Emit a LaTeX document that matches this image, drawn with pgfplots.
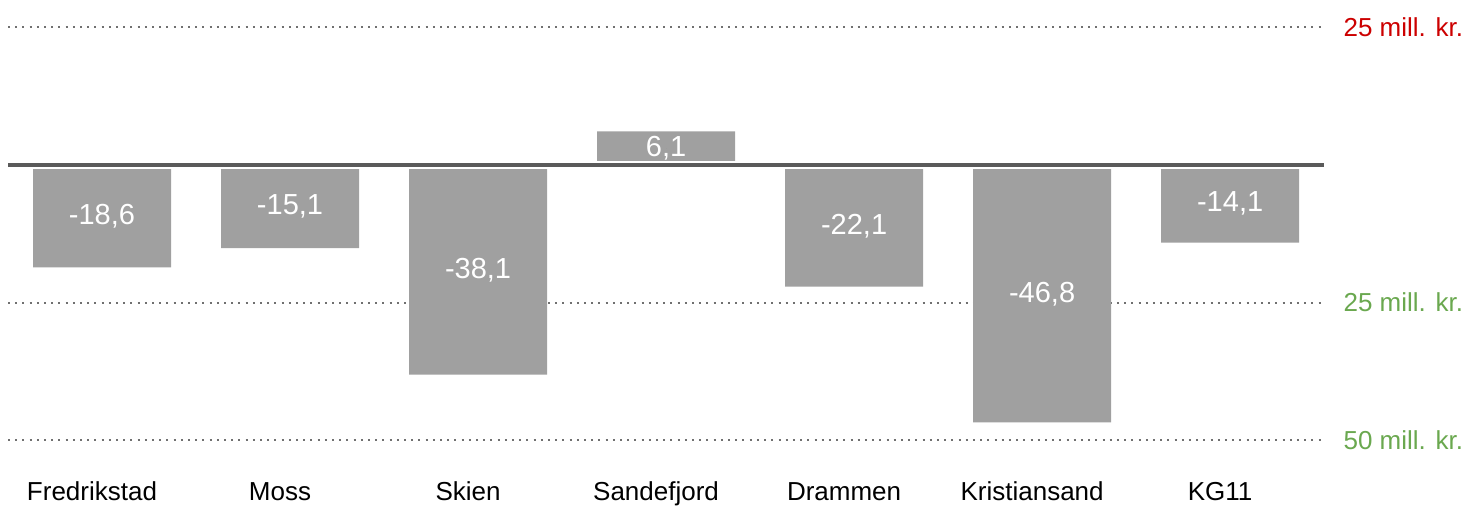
\documentclass[border=0pt]{standalone}
\usepackage{fontspec}
\setmainfont{Liberation Sans}
\usepackage{pgfplots}
\usepackage{pgfplotstable}
\pgfplotsset{compat=1.18}

\definecolor{barg}{HTML}{A0A0A0}
\definecolor{zeroc}{HTML}{5A5A5A}
\definecolor{gridc}{HTML}{707070}
\definecolor{redlab}{HTML}{CC0000}
\definecolor{greenlab}{HTML}{6AA84F}

% x, value, half value (label position), label
\pgfplotstableread{
x y half label
0 -18.6 -9.3 -18,6
1 -15.1 -7.55 -15,1
2 -38.1 -19.05 -38,1
3 6.1 3.05 6,1
4 -22.1 -11.05 -22,1
5 -46.8 -23.4 -46,8
6 -14.1 -7.05 -14,1
}\data

\begin{document}
\begin{tikzpicture}
\begin{axis}[
    scale only axis,
    width=658pt, height=243pt,
    xmin=-0.5, xmax=6.5,
    ymin=-58.36, ymax=30,
    axis line style={draw=none},
    major tick length=0pt,
    tick style={draw=none},
    xtick={0,...,6},
    xticklabels={Fredrikstad,Moss,Skien,Sandefjord,Drammen,Kristiansand,KG11},
    xticklabel style={font=\fontsize{13}{15}\selectfont, anchor=north,
        inner sep=0pt, text height=0.72em, text depth=0.21em, xshift=-5pt},
    ytick={-50,-25,25},
    yticklabels={\textcolor{greenlab}{50 mill. kr.},\textcolor{greenlab}{25 mill. kr.},\textcolor{redlab}{25 mill. kr.}},
    yticklabel pos=right,
    yticklabel style={font=\fontsize{13}{15}\selectfont, anchor=west, inner sep=0pt, xshift=9.5pt},
    ymajorgrids,
    grid style={gridc, line width=1pt, dash pattern=on 1pt off 2.6pt},
]
\addplot[ybar, bar width=69pt, fill=barg, draw=none] table[x=x, y=y] {\data};
\draw[white, line width=4pt] (axis cs:-0.5,0) -- (axis cs:6.5,0);
\draw[zeroc, line width=2pt] (axis cs:-0.5,0) -- (axis cs:6.5,0);
\addplot[only marks, mark=*, mark size=0pt, mark options={draw=none, fill=none},
    nodes near coords, point meta=explicit symbolic,
    nodes near coords align={center},
    every node near coord/.append style={anchor=center, text=white, inner sep=0pt,
        font=\fontsize{14.5}{17}\selectfont}]
    table[x=x, y=half, meta=label] {\data};
\end{axis}
\path ([xshift=-4pt]current axis.south west);
\end{tikzpicture}
\end{document}
